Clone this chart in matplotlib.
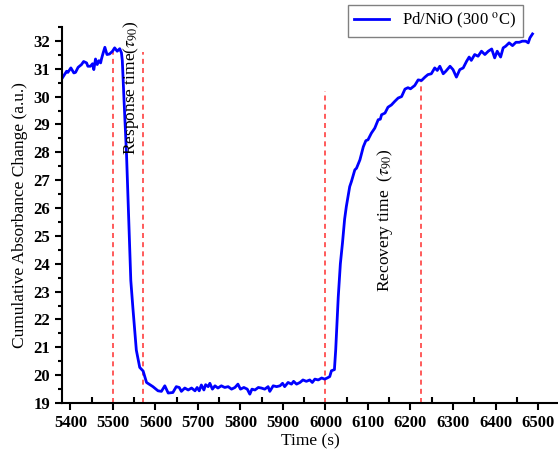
import matplotlib

matplotlib.use("Agg")
import matplotlib.pyplot as plt
from matplotlib.ticker import MultipleLocator

# Pd/NiO sensor trace at 300 C
time_s = [
    5381, 5391, 5394, 5401, 5408, 5412, 5418, 5426, 5431, 5438, 5441, 5447,
    5452, 5455, 5459, 5463, 5467, 5471, 5473, 5477, 5481, 5486, 5492, 5499,
    5504, 5510, 5516, 5520, 5522, 5526, 5532, 5538, 5542, 5547, 5555, 5563,
    5571, 5579, 5594, 5606, 5614, 5622, 5630, 5641, 5649, 5656, 5661, 5669,
    5677, 5685, 5693, 5698, 5703, 5708, 5714, 5718, 5724, 5728, 5734, 5740,
    5747, 5755, 5763, 5771, 5779, 5787, 5794, 5800, 5808, 5816, 5822, 5827,
    5834, 5842, 5849, 5857, 5865, 5869, 5877, 5885, 5893, 5899, 5904, 5912,
    5920, 5925, 5932, 5940, 5947, 5955, 5963, 5969, 5975, 5983, 5991, 5998,
    6004, 6010, 6014, 6021, 6024, 6030, 6035, 6040, 6045, 6049, 6057, 6061,
    6069, 6073, 6081, 6089, 6095, 6100, 6108, 6116, 6124, 6129, 6132, 6140,
    6147, 6155, 6163, 6171, 6179, 6187, 6194, 6200, 6210, 6218, 6226, 6234,
    6241, 6249, 6257, 6263, 6269, 6277, 6283, 6293, 6300, 6308, 6316, 6324,
    6332, 6338, 6343, 6351, 6359, 6367, 6375, 6383, 6391, 6398, 6404, 6412,
    6418, 6424, 6432, 6440, 6448, 6456, 6463, 6471, 6477, 6481, 6487,
]
absorbance = [
    30.67, 30.91, 30.87, 31.03, 30.85, 30.87, 31.05, 31.15, 31.26, 31.21, 31.09, 31.09,
    31.18, 30.97, 31.35, 31.15, 31.29, 31.21, 31.35, 31.57, 31.77, 31.51, 31.53, 31.63,
    31.75, 31.63, 31.72, 31.57, 31.30, 29.90, 27.90, 25.20, 23.40, 22.40, 20.90, 20.28,
    20.15, 19.74, 19.59, 19.44, 19.42, 19.62, 19.36, 19.38, 19.59, 19.56, 19.42, 19.54,
    19.47, 19.54, 19.44, 19.56, 19.44, 19.65, 19.47, 19.66, 19.59, 19.71, 19.50, 19.62,
    19.54, 19.62, 19.56, 19.59, 19.50, 19.56, 19.68, 19.50, 19.56, 19.50, 19.32, 19.50,
    19.47, 19.56, 19.54, 19.50, 19.59, 19.42, 19.62, 19.59, 19.62, 19.71, 19.59, 19.74,
    19.68, 19.78, 19.68, 19.74, 19.83, 19.78, 19.83, 19.74, 19.86, 19.83, 19.90, 19.86,
    19.90, 19.95, 20.16, 20.20, 20.90, 22.80, 24.00, 24.75, 25.60, 26.05, 26.77, 26.95,
    27.37, 27.43, 27.73, 28.20, 28.42, 28.45, 28.69, 28.87, 29.17, 29.19, 29.35, 29.41,
    29.62, 29.70, 29.83, 29.95, 30.00, 30.27, 30.32, 30.28, 30.40, 30.60, 30.58, 30.70,
    30.79, 30.82, 31.03, 30.94, 31.09, 30.82, 30.91, 31.09, 30.97, 30.70, 30.97, 31.03,
    31.27, 31.42, 31.30, 31.51, 31.45, 31.63, 31.51, 31.63, 31.71, 31.39, 31.63, 31.42,
    31.75, 31.81, 31.93, 31.83, 31.95, 31.95, 31.99, 31.99, 31.93, 32.11, 32.25,
]

# tau_90 markers: gas on / 90 % response, gas off / 90 % recovery
marker_times = [5500, 5570, 6000, 6225]
marker_tops = [31.6, 31.6, 30.2, 30.55]

plt.rcParams["font.family"] = ["Liberation Serif", "DejaVu Serif"]
plt.rcParams["mathtext.fontset"] = "stix"

fig = plt.figure(figsize=(5.58, 4.57), dpi=100)
ax = fig.add_axes([0.111, 0.118, 0.889, 0.823])

ax.vlines(marker_times, 19, marker_tops, colors="#ff4040", linestyles=(0, (3, 2.5)),
          linewidth=1.2, zorder=1)
ax.plot(time_s, absorbance, color="#0000ff", linewidth=2.0,
        label=r"Pd/NiO (300 $^{\rm o}$C)", zorder=2)

ax.text(5542, 27.9, r"Response time($\tau_{90}$)", rotation=90,
        ha="center", va="bottom", fontsize=12.5)
ax.text(6140, 23.0, r"Recovery time  ($\tau_{90}$)", rotation=90,
        ha="center", va="bottom", fontsize=12.5)

ax.set_xlim(5380, 6547)
ax.set_ylim(19, 32.5)
ax.xaxis.set_major_locator(MultipleLocator(100))
ax.xaxis.set_minor_locator(MultipleLocator(50))
ax.yaxis.set_major_locator(MultipleLocator(1))
ax.yaxis.set_minor_locator(MultipleLocator(0.5))
ax.tick_params(axis="x", which="major", direction="out", length=5, width=1.5)
ax.tick_params(axis="x", which="minor", direction="in", length=4, width=1.5)
ax.tick_params(axis="y", which="major", direction="out", length=5, width=1.5)
ax.tick_params(axis="y", which="minor", direction="out", length=3, width=1.5)
for lbl in ax.get_xticklabels() + ax.get_yticklabels():
    lbl.set_fontweight("bold")
    lbl.set_fontsize(12)

for side in ["top", "right"]:
    ax.spines[side].set_visible(False)
for side in ["left", "bottom"]:
    ax.spines[side].set_linewidth(1.5)

ax.set_xlabel("Time (s)", fontsize=12.5, labelpad=2)
ax.set_ylabel("Cumulative Absorbance Change (a.u.)", fontsize=12.5, labelpad=4)

leg = ax.legend(loc="upper right", bbox_to_anchor=(0.929, 1.058), borderaxespad=0,
                fancybox=False, edgecolor="#808080", framealpha=1, fontsize=12,
                handlelength=2.1, borderpad=0.35)
leg.get_frame().set_linewidth(1.0)

fig.savefig("out.png", dpi=100)
